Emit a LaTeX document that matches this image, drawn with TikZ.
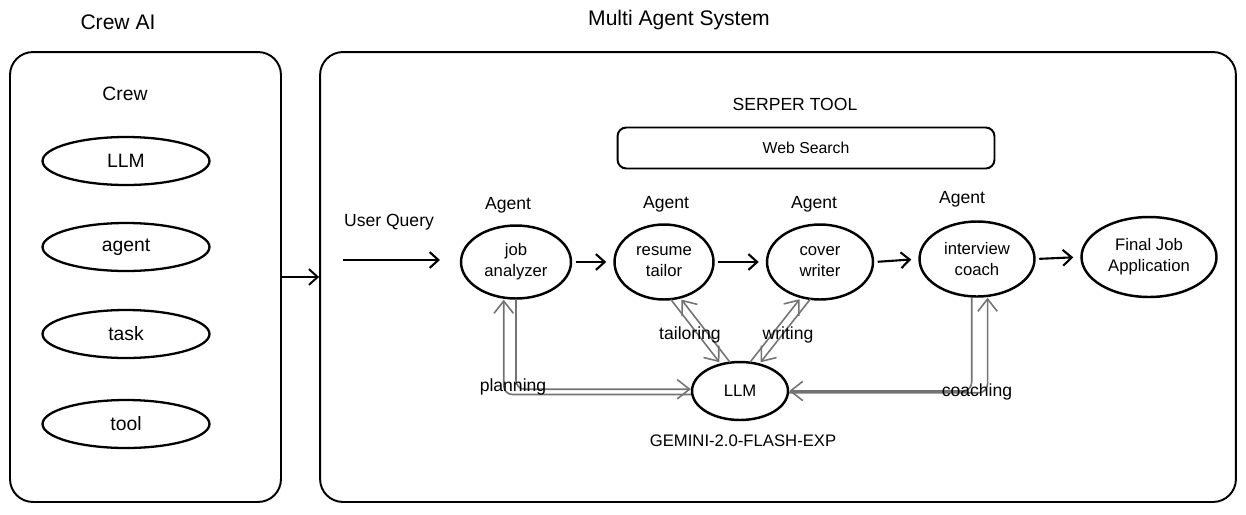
\documentclass[tikz,border=0pt]{standalone}
\usepackage{fontspec}
\setmainfont{Liberation Sans}
\usetikzlibrary{arrows.meta,shapes.geometric}

\begin{document}
\begin{tikzpicture}[x=0.02cm, y=-0.02cm,
    >={Straight Barb[length=5pt,width=9pt]}, line width=1.1pt,
    title/.style={font=\fontsize{12}{14}\selectfont},
    tag/.style={font=\fontsize{10}{12}\selectfont},
    panel/.style={draw, rounded corners=13pt, minimum height=9cm, inner sep=0pt},
    part/.style={draw, ellipse, line width=1.3pt, minimum width=3.34cm, minimum height=0.96cm, font=\fontsize{11}{13}\selectfont},
    agent/.style={draw, ellipse, line width=1.4pt, inner sep=0pt, minimum height=1.5cm, align=center, font=\fontsize{9.5}{12}\selectfont},
    flow/.style={->, line width=1.2pt, shorten <=2pt, shorten >=4pt},
    link/.style={-{Straight Barb[length=7pt,width=11pt]}, draw=black!55, line width=0.9pt, rounded corners=5pt}]
    \useasboundingbox (0,0) rectangle (1246,514);

    % Titles
    \node[title] (crewai) at (118,22) {Crew AI};
    \node[title] (mas) at (679,20) {Multi Agent System};

    % Crew AI panel
    \node[panel, minimum width=5.42cm] (crew) at (145.5,277) {};
    \node[title, font=\fontsize{11}{13}\selectfont] (crewlbl) at (125,94) {Crew};
    \node[part] (cllm) at (126,161) {LLM};
    \node[part] (cagent) at (126,247) {agent};
    \node[part] (ctask) at (126,334) {task};
    \node[part] (ctool) at (126,424) {tool};

    % Multi agent panel
    \node[panel, minimum width=18.32cm] (sys) at (778,277) {};
    \draw[->] (crew.east) -- (sys.west);

    % Serper tool
    \node[tag] (serper) at (795,104) {SERPER TOOL};
    \node[draw, rounded corners=5pt, minimum width=7.54cm, minimum height=0.82cm,
          font=\fontsize{9}{11}\selectfont] (web) at (806,148) {Web Search};

    % User query
    \node[tag] (uq) at (389,222) {User Query};
    \coordinate (uqs) at (343,260);
    \coordinate (uqe) at (440,260);
    \draw[->, line width=1.2pt] (uqs) -- (uqe);

    % Agents
    \node[tag] (ag1) at (508,205) {Agent};
    \node[agent, minimum width=2.2cm, minimum height=1.46cm] (job) at (516,262) {job\\analyzer};
    \node[tag] (ag2) at (666,204) {Agent};
    \node[agent, minimum width=1.98cm] (res) at (664,262) {resume\\tailor};
    \node[tag] (ag3) at (814,204) {Agent};
    \node[agent, minimum width=2.12cm] (cov) at (820,262) {cover\\writer};
    \node[tag] (ag4) at (962,199) {Agent};
    \node[agent, minimum width=2.3cm] (coach) at (977,259) {interview\\coach};
    \node[agent, minimum width=2.7cm, minimum height=1.6cm] (final) at (1149,257) {Final Job\\Application};

    % Pipeline
    \draw[flow] (job.east) -- (res.west);
    \draw[flow] (res.east) -- (cov.west);
    \draw[flow] (cov.east) -- (coach.west);
    \draw[flow] (coach.east) -- (final.west);

    % Shared LLM
    \node[agent, minimum width=1.92cm, minimum height=1.16cm] (llm) at (740,391) {LLM};
    \node[tag, font=\fontsize{9.5}{11}\selectfont] (gemini) at (743,441) {GEMINI-2.0-FLASH-EXP};

    % planning
    \draw[link] ([yshift=-2pt]llm.west) -| ([xshift=-7pt]job.south);
    \draw[link] (job.south) |- ([yshift=1pt]llm.west);
    \node[tag] (lplan) at (513,387) {planning};

    % tailoring
    \draw[link] ([xshift=-3pt]res.-72) -- ([xshift=-3pt]llm.118);
    \draw[link] ([xshift=3pt]llm.118) -- ([xshift=3pt]res.-72);
    \node[tag] (ltail) at (690,335) {tailoring};

    % writing
    \draw[link] ([xshift=-3pt]llm.62) -- ([xshift=-3pt]cov.-112);
    \draw[link] ([xshift=3pt]cov.-112) -- ([xshift=3pt]llm.62);
    \node[tag] (lwrite) at (788,335) {writing};

    % coaching
    \draw[link] ([xshift=-3pt]coach.south) |- (llm.east);
    \draw[link] ([yshift=-1pt]llm.east) -| ([xshift=6pt]coach.south);
    \node[tag] (lcoach) at (977,392) {coaching};
\end{tikzpicture}
\end{document}
